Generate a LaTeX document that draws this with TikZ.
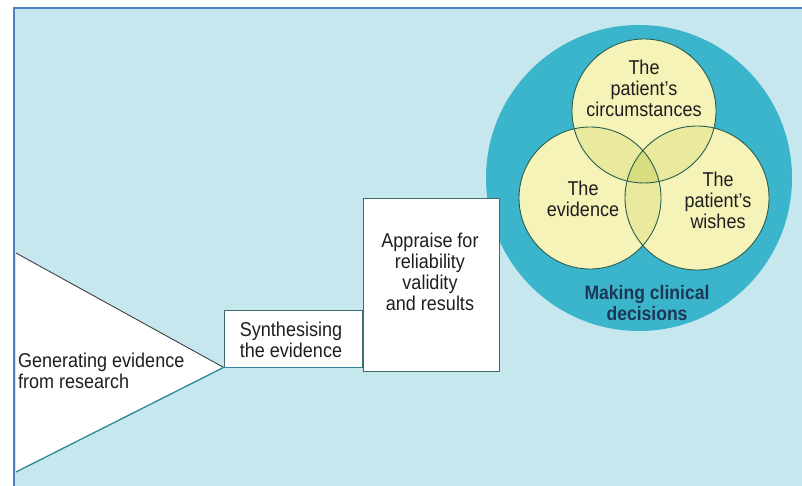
\documentclass[tikz,border=0pt]{standalone}
\usepackage{fontspec}
\setmainfont{Liberation Sans}[FakeStretch=0.9]
\definecolor{bgblue}{HTML}{C6E7EE}
\definecolor{frameblue}{HTML}{4F7FC8}
\definecolor{bigteal}{HTML}{3BB5CB}
\definecolor{vennfill}{HTML}{F5F3B8}
\definecolor{vennmid}{HTML}{EAEA9E}
\definecolor{vennhigh}{HTML}{D8DE80}
\definecolor{vennline}{HTML}{285E4E}
\definecolor{boxline}{HTML}{3E6A70}
\definecolor{textgray}{HTML}{1E1E1E}
\definecolor{navy}{HTML}{1E3656}

\begin{document}
\begin{tikzpicture}[
    x=1pt, y=-1pt,
    box/.style={draw=boxline, line width=0.8pt, fill=white, rectangle, inner sep=0pt},
    venn/.style={draw=vennline, line width=0.9pt},
    txt/.style={align=center, text=textgray, font=\fontsize{20}{21}\selectfont}
]

\useasboundingbox (0,0) rectangle (802,486);
\fill[bgblue] (14,8) rectangle (802,486);
\draw[frameblue, line width=1.2pt] (14,486) -- (14,8) -- (802,8);

% big circle
\fill[bigteal] (639,178) circle[radius=153pt];

% venn
\coordinate (ctop) at (644,111);
\coordinate (cleft) at (590,198);
\coordinate (cright) at (697,198);
\fill[vennfill] (ctop) circle[radius=72pt];
\fill[vennfill] (cleft) circle[radius=71pt];
\fill[vennfill] (cright) circle[radius=72pt];
\begin{scope}
  \clip (ctop) circle[radius=72pt];
  \fill[vennmid] (cleft) circle[radius=71pt];
  \fill[vennmid] (cright) circle[radius=72pt];
\end{scope}
\begin{scope}
  \clip (cleft) circle[radius=71pt];
  \fill[vennmid] (cright) circle[radius=72pt];
\end{scope}
\begin{scope}
  \clip (ctop) circle[radius=72pt];
  \clip (cleft) circle[radius=71pt];
  \fill[vennhigh] (cright) circle[radius=72pt];
\end{scope}
\draw[venn] (ctop) circle[radius=72pt];
\draw[venn] (cleft) circle[radius=71pt];
\draw[venn] (cright) circle[radius=72pt];

\node[txt] (circtext) at (644,88) {The\\patient's\\circumstances};
\node[txt] (evtext) at (583,199) {The\\evidence};
\node[txt] (wishtext) at (718,200) {The\\patient's\\wishes};
\node[txt, text=navy, font=\bfseries\fontsize{19.5}{21}\selectfont] (decide) at (647,303) {Making clinical\\decisions};

% steps
\node[box, minimum width=138pt, minimum height=57pt] (synth) at (293,338.5) {};
\node[txt] (synthtext) at (291,340) {Synthesising\\the evidence};
\node[box, minimum width=136pt, minimum height=173pt] (appraise) at (431,284.5) {};
\node[txt] (apptext) at (430,272) {Appraise for\\reliability\\validity\\and results};

\coordinate (tritop) at (16,253);
\coordinate (tribot) at (16,472);
\fill[white] (tritop) -- (synth.south west) -- (tribot) -- cycle;
\draw[textgray!85, line width=0.9pt] (tritop) -- (synth.south west);
\draw[bigteal!75!black, line width=1.3pt] (synth.south west) -- (tribot);
\draw[bigteal!75!black, line width=1pt] (synth.south west) -- (synth.south east);
\node[txt, align=left, anchor=west, inner sep=2pt] (gentext) at (16,371) {Generating evidence\\from research};

\end{tikzpicture}
\end{document}
